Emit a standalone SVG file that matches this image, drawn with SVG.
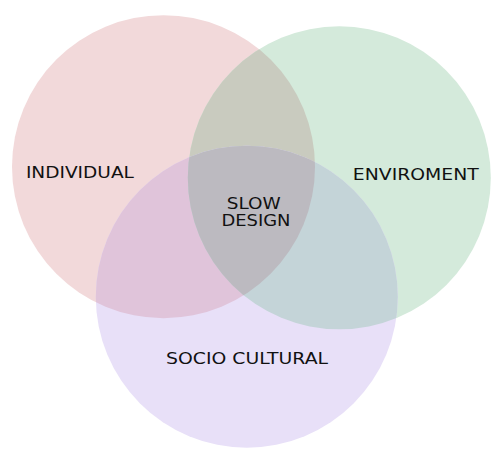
<svg xmlns="http://www.w3.org/2000/svg" width="500" height="459" viewBox="0 0 500 459">
<style>
text{font-family:"DejaVu Sans","Liberation Sans",Arial,sans-serif;font-size:16.5px;fill:#111;text-anchor:middle;}
.c{font-size:16px;}
</style>
<defs>
<clipPath id="cr"><circle cx="163.5" cy="166.7" r="151.5"/></clipPath>
<clipPath id="cg"><circle cx="339.3" cy="177.8" r="151.5"/></clipPath>
</defs>
<rect width="500" height="459" fill="#ffffff"/>
<g id="individual">
<circle cx="163.5" cy="166.7" r="151.5" fill="#f2d9da"/>
</g>
<g id="enviroment">
<circle cx="339.3" cy="177.8" r="151.5" fill="#d4eadb"/>
<circle cx="339.3" cy="177.8" r="151.5" fill="#c9cbbf" clip-path="url(#cr)"/>
</g>
<g id="sociocultural">
<circle cx="246.8" cy="296.7" r="151" fill="#e8e0f8"/>
<circle cx="246.8" cy="296.7" r="151" fill="#e0c4da" clip-path="url(#cr)"/>
<circle cx="246.8" cy="296.7" r="151" fill="#c4d4d8" clip-path="url(#cg)"/>
<g clip-path="url(#cr)"><circle cx="246.8" cy="296.7" r="151" fill="#bcbac0" clip-path="url(#cg)"/></g>
</g>
<g id="labels">
<text x="79.9" y="178.3" textLength="108" lengthAdjust="spacingAndGlyphs">INDIVIDUAL</text>
<text x="415.8" y="180" textLength="126" lengthAdjust="spacingAndGlyphs">ENVIROMENT</text>
<text x="247" y="363.7" textLength="162" lengthAdjust="spacingAndGlyphs">SOCIO CULTURAL</text>
<text class="c" x="253.8" y="209" textLength="54" lengthAdjust="spacingAndGlyphs">SLOW</text>
<text class="c" x="256" y="225.7" textLength="69" lengthAdjust="spacingAndGlyphs">DESIGN</text>
</g>
<g id="connectors"></g>
</svg>
